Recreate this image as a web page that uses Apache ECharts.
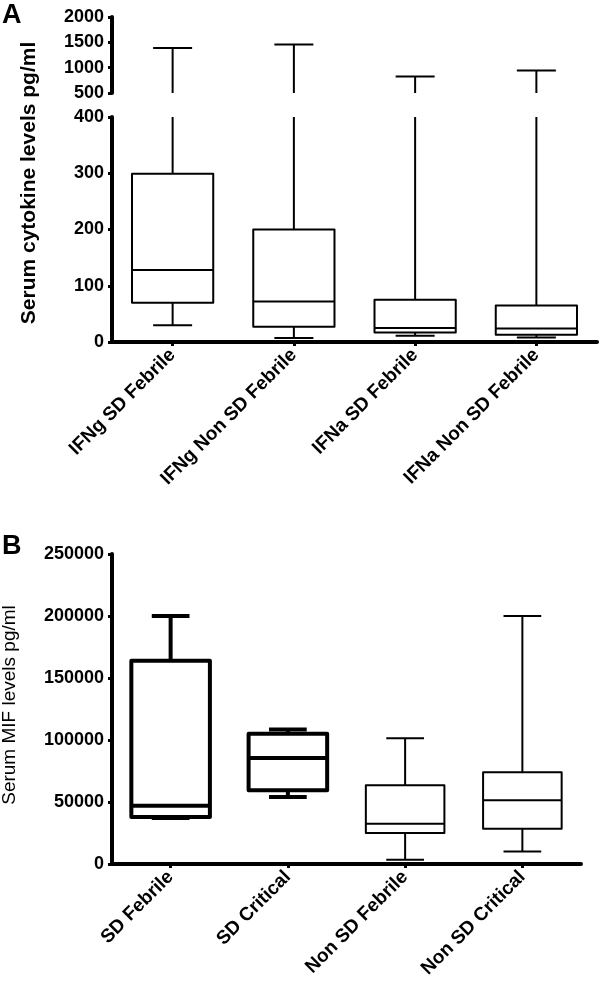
<!DOCTYPE html>
<html>
<head>
<meta charset="utf-8">
<script src="https://cdn.jsdelivr.net/npm/echarts@6/dist/echarts.min.js"></script>
<style>
html,body{margin:0;padding:0;background:#fff;}
#c{width:600px;height:981px;}
</style>
</head>
<body>
<div id="c"></div>
<script>
// Panel A data
const catsA = ['IFNg SD Febrile', 'IFNg Non SD Febrile', 'IFNa SD Febrile', 'IFNa Non SD Febrile'];
const minA = [30, 7, 11, 8];
const q1A = [70, 27, 17, 13];
const medA = [128, 72, 25, 24];
const q3A = [299, 200, 75, 65];
const maxA = [1390, 1457, 826, 946];
const ticksA_low = [0, 100, 200, 300, 400];
const ticksA_high = [500, 1000, 1500, 2000];

// Panel B data
const catsB = ['SD Febrile', 'SD Critical', 'Non SD Febrile', 'Non SD Critical'];
const minB = [37000, 54000, 3500, 10000];
const q1B = [38000, 59500, 25000, 28500];
const medB = [47000, 85500, 32500, 51500];
const q3B = [164000, 105000, 63500, 74000];
const maxB = [200000, 108500, 101500, 200000];
const ticksB = [0, 50000, 100000, 150000, 200000, 250000];

// styles
const lineWB = [4, 4, 2, 2];
const BREAK_LOW = 400, BREAK_HIGH = 500;

const FONT = 'Liberation Sans, Arial, sans-serif';

function rows(mins, q1s, meds, q3s, maxs) {
  return mins.map((m, i) => [i, m, q1s[i], meds[i], q3s[i], maxs[i]]);
}

function line(p1, p2, w) {
  return {type: 'line', shape: {x1: p1[0], y1: p1[1], x2: p2[0], y2: p2[1]},
          style: {stroke: '#000', lineWidth: w, lineCap: 'butt'}};
}

// mode: 'low' (clip at BREAK_LOW), 'high' (only whisker part above BREAK_HIGH), 'full'
function makeRender(mode, widths) {
  return function (params, api) {
    const i = api.value(0);
    const mn = api.value(1), q1 = api.value(2), md = api.value(3), q3 = api.value(4), mx = api.value(5);
    const band = api.size([1, 0])[0];
    const bw = band * 0.67;
    const cw = bw * 0.48;
    const x = api.coord([i, 0])[0];
    const w = widths ? widths[i] : 2;
    const Y = v => api.coord([i, v])[1];
    const ch = [];
    if (mode === 'high') {
      if (mx > BREAK_HIGH) {
        ch.push(line([x, Y(BREAK_HIGH)], [x, Y(mx)], w));
        ch.push(line([x - cw / 2, Y(mx)], [x + cw / 2, Y(mx)], w));
      }
      return {type: 'group', children: ch};
    }
    let top = mx, capTop = true;
    if (mode === 'low' && mx > BREAK_LOW) { top = BREAK_LOW; capTop = false; }
    ch.push(line([x, Y(q3)], [x, Y(top)], w));
    if (capTop) ch.push(line([x - cw / 2, Y(top)], [x + cw / 2, Y(top)], w));
    ch.push(line([x, Y(q1)], [x, Y(mn)], w));
    ch.push(line([x - cw / 2, Y(mn)], [x + cw / 2, Y(mn)], w));
    const yq3 = Y(q3), yq1 = Y(q1);
    ch.push({type: 'rect', shape: {x: x - bw / 2, y: yq3, width: bw, height: yq1 - yq3},
             style: {fill: '#fff', stroke: '#000', lineWidth: w, lineJoin: 'round'}});
    ch.push(line([x - bw / 2, Y(md)], [x + bw / 2, Y(md)], w));
    return {type: 'group', children: ch};
  };
}

const axisLineStyle = {color: '#000', width: 4};
const tickStyle = {color: '#000', width: 3};
const tickLabel = {color: '#000', fontFamily: FONT, fontWeight: 'bold', fontSize: 18, margin: 8,
                   formatter: v => String(v)};
const catLabel = {color: '#000', fontFamily: FONT, fontWeight: 'bold', fontSize: 19, rotate: 45, margin: 10, interval: 0};

function yAxis(gi, min, max, interval) {
  return {
    type: 'value', gridIndex: gi, min: min, max: max, interval: interval,
    axisLine: {show: true, lineStyle: axisLineStyle},
    axisTick: {show: true, length: 4, lineStyle: tickStyle},
    axisLabel: tickLabel,
    splitLine: {show: false}
  };
}

const chart = echarts.init(document.getElementById('c'), null, {renderer: 'canvas'});
chart.setOption({
  backgroundColor: '#fff',
  animation: false,
  grid: [
    {left: 112, width: 485, top: 17, height: 76},
    {left: 112, width: 485, top: 117, height: 225},
    {left: 112, width: 469, top: 554, height: 310}
  ],
  xAxis: [
    {type: 'category', gridIndex: 0, data: catsA, show: false},
    {type: 'category', gridIndex: 1, data: catsA,
     axisLine: {show: true, lineStyle: axisLineStyle},
     axisTick: {show: true, alignWithLabel: true, length: 4, lineStyle: tickStyle},
     axisLabel: catLabel},
    {type: 'category', gridIndex: 2, data: catsB,
     axisLine: {show: true, lineStyle: axisLineStyle},
     axisTick: {show: true, alignWithLabel: true, length: 4, lineStyle: tickStyle},
     axisLabel: catLabel}
  ],
  yAxis: [
    yAxis(0, ticksA_high[0], ticksA_high[ticksA_high.length - 1], ticksA_high[1] - ticksA_high[0]),
    yAxis(1, ticksA_low[0], ticksA_low[ticksA_low.length - 1], ticksA_low[1] - ticksA_low[0]),
    yAxis(2, ticksB[0], ticksB[ticksB.length - 1], ticksB[1] - ticksB[0])
  ],
  series: [
    {type: 'custom', xAxisIndex: 0, yAxisIndex: 0, clip: false,
     renderItem: makeRender('high', null), encode: {x: 0, y: [1, 2, 3, 4, 5]},
     data: rows(minA, q1A, medA, q3A, maxA)},
    {type: 'custom', xAxisIndex: 1, yAxisIndex: 1, clip: false,
     renderItem: makeRender('low', null), encode: {x: 0, y: [1, 2, 3, 4, 5]},
     data: rows(minA, q1A, medA, q3A, maxA)},
    {type: 'custom', xAxisIndex: 2, yAxisIndex: 2, clip: false,
     renderItem: makeRender('full', lineWB), encode: {x: 0, y: [1, 2, 3, 4, 5]},
     data: rows(minB, q1B, medB, q3B, maxB)}
  ],
  graphic: [
    {type: 'text', left: 2, top: 2, style: {text: 'A', font: 'bold 27px ' + FONT, fill: '#000'}},
    {type: 'text', left: 2, top: 533, style: {text: 'B', font: 'bold 27px ' + FONT, fill: '#000'}},
    {type: 'text', x: 29, y: 183, rotation: Math.PI / 2,
     style: {text: 'Serum cytokine levels pg/ml', font: 'bold 21px ' + FONT, fill: '#000',
             textAlign: 'center', textVerticalAlign: 'middle'}},
    {type: 'text', x: 10, y: 705, rotation: Math.PI / 2,
     style: {text: 'Serum MIF levels pg/ml', font: '19px ' + FONT, fill: '#000',
             textAlign: 'center', textVerticalAlign: 'middle'}}
  ]
});
</script>
</body>
</html>
